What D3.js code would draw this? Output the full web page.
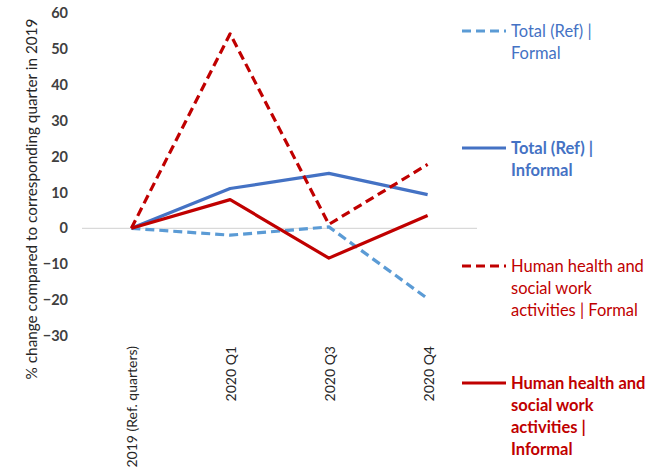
<!DOCTYPE html>
<html><head><meta charset="utf-8">
<script src="https://cdn.jsdelivr.net/npm/d3@7"></script>
<style>body{margin:0;background:#fff}svg{display:block}text{font-family:Lato,"Open Sans",sans-serif}</style>
</head><body><svg id="c" width="667" height="471"></svg>
<script>
const categories = ["2019 (Ref. quarters)", "2020 Q1", "2020 Q3", "2020 Q4"];
const totalFormal = [0, -1.9, 0.4, -19.6];
const totalInformal = [0, 11.1, 15.3, 9.4];
const hhFormal = [0, 54.2, 1.1, 17.8];
const hhInformal = [0, 8.0, -8.3, 3.6];
const yTicks = [60, 50, 40, 30, 20, 10, 0, -10, -20, -30];
const yTitle = "% change compared to corresponding quarter in 2019";

const series = [
  {name: ["Total (Ref) |", "Formal"], values: totalFormal, color: "#5B9BD5", text: "#4472C4", dash: "9,5", bold: false, ly: 31},
  {name: ["Total (Ref) |", "Informal"], values: totalInformal, color: "#4472C4", text: "#4472C4", dash: null, bold: true, ly: 148},
  {name: ["Human health and", "social work", "activities | Formal"], values: hhFormal, color: "#C00000", text: "#C00000", dash: "9,5", bold: false, ly: 266},
  {name: ["Human health and", "social work", "activities |", "Informal"], values: hhInformal, color: "#C00000", text: "#C00000", dash: null, bold: true, ly: 383}
];

const svg = d3.select("#c");
const x = d3.scaleBand().domain(categories).range([82, 477]);
const y = d3.scaleLinear().domain([-30, 60]).range([336, 13]);

// zero line
svg.append("line").attr("x1", 82).attr("x2", 477).attr("y1", y(0)).attr("y2", y(0))
  .attr("stroke", "#d9d9d9").attr("stroke-width", 1.3);

// y tick labels
const yAxis = d3.axisLeft(y).tickValues(yTicks).tickSize(0).tickPadding(0).tickFormat(d3.format("d"));
const ya = svg.append("g").attr("transform", "translate(68,0)").call(yAxis);
ya.select(".domain").remove();
ya.selectAll("text").attr("font-size", 14.5).attr("font-weight", "bold").attr("fill", "#404040")
  .style("font-family", "Lato, sans-serif");

// x tick labels
const xAxis = d3.axisBottom(x).tickSize(0).tickPadding(0);
const xa = svg.append("g").attr("transform", "translate(1,346)").call(xAxis);
xa.select(".domain").remove();
xa.selectAll("text").attr("font-size", 14).attr("fill", "#262626")
  .attr("text-anchor", "end").attr("dy", "0.35em")
  .attr("transform", "rotate(-90)").attr("x", 0).attr("y", 0)
  .style("font-family", "Lato, sans-serif");

// y title
svg.append("text").attr("transform", "translate(32,199) rotate(-90)")
  .attr("text-anchor", "middle").attr("dy", "0.35em").attr("font-size", 15.3).attr("fill", "#262626").text(yTitle);

// lines
series.forEach(s => {
  const line = d3.line().x((d, i) => x(categories[i]) + x.bandwidth() / 2).y(d => y(d));
  svg.append("path").datum(s.values).attr("d", line).attr("fill", "none")
    .attr("stroke", s.color).attr("stroke-width", 3.2)
    .attr("stroke-dasharray", s.dash).attr("stroke-linejoin", "round");
});

// legend
series.forEach(s => {
  svg.append("line").attr("x1", 462).attr("x2", 506).attr("y1", s.ly).attr("y2", s.ly)
    .attr("stroke", s.color).attr("stroke-width", 3.2).attr("stroke-dasharray", s.dash);
  const t = svg.append("text").attr("x", 511).attr("y", s.ly).attr("font-size", 16.5)
    .attr("fill", s.text).attr("font-weight", s.bold ? "bold" : "normal");
  s.name.forEach((n, i) => {
    t.append("tspan").attr("x", 511).attr("y", s.ly + i * 22).attr("dy", "0.35em").text(n);
  });
});
</script></body></html>
